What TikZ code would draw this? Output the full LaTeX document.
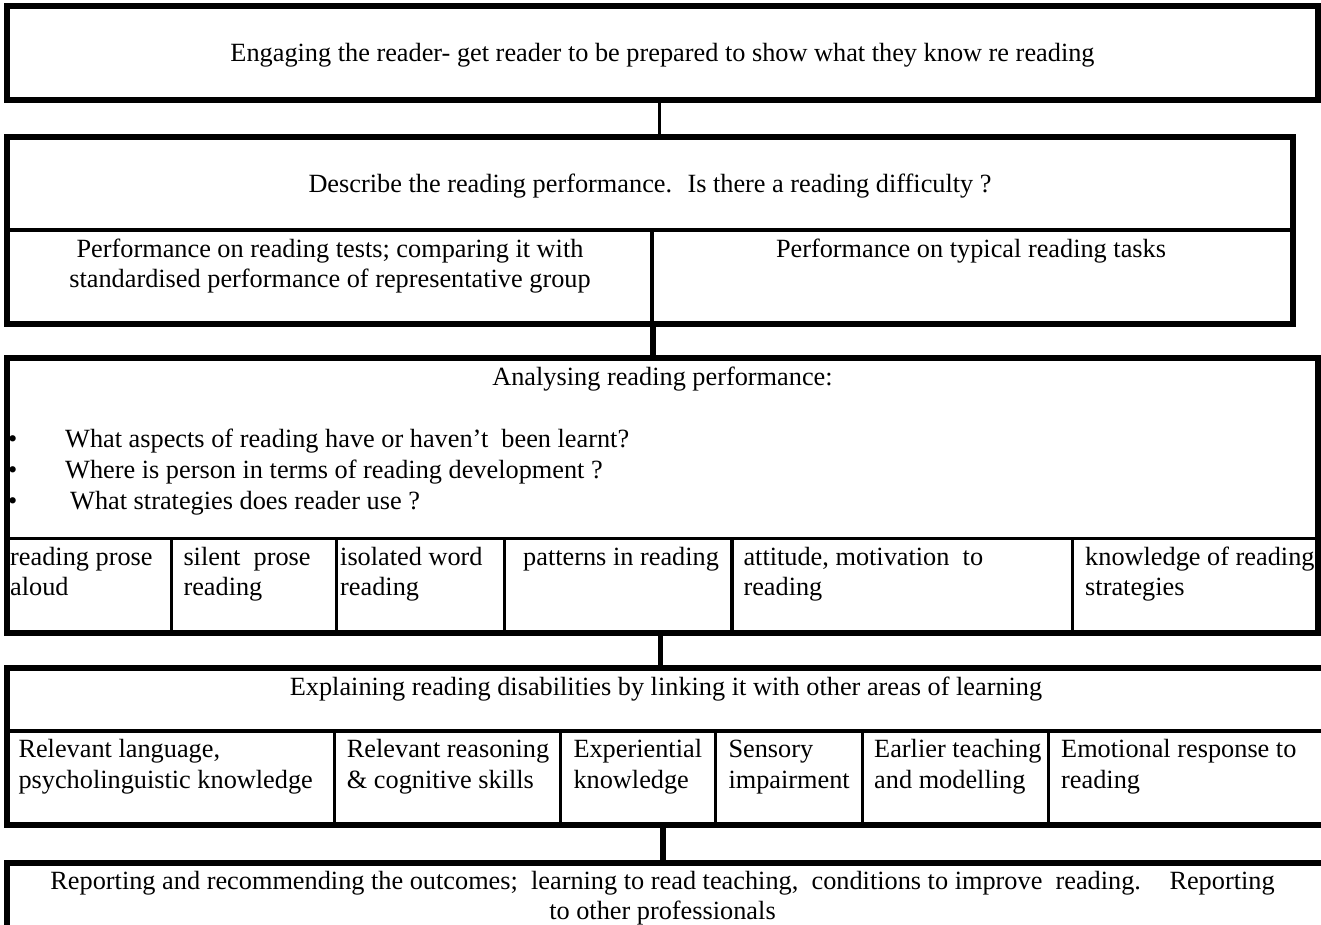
\documentclass[tikz,border=0pt]{standalone}
\usepackage{fontspec}
\setmainfont{Liberation Serif}
\begin{document}
\begin{tikzpicture}[x=1pt,y=-1pt,
  boxnode/.style={draw, rectangle, line width=6pt, inner sep=0pt, outer sep=0pt},
  divider/.style={line width=3.4pt},
  thinconn/.style={line width=3.4pt},
  thickconn/.style={line width=6pt},
  ltxt/.style={inner sep=0pt, font=\fontsize{26.3}{30.6}\selectfont, align=left, anchor=base west},
  ctxt/.style={inner sep=0pt, font=\fontsize{26.3}{30.6}\selectfont, align=center, anchor=base}]
\useasboundingbox (0,0) rectangle (1321,924);
% boxes
\node[boxnode, minimum width=1311pt, minimum height=94pt] (b1) at (662.5,53) {};
\node[boxnode, minimum width=1286pt, minimum height=187.5pt] (b2) at (650,230.25) {};
\node[boxnode, minimum width=1311pt, minimum height=275pt] (b3) at (662.5,495.5) {};
\node[boxnode, minimum width=1319pt, minimum height=156.7pt] (b4) at (666.5,746.35) {};
\node[boxnode, minimum width=1319pt, minimum height=72pt] (b5) at (666.5,899) {};
% connector x positions
\coordinate (k1) at (659.5,0);
\coordinate (k2) at (653,0);
\coordinate (k3) at (660.5,0);
\coordinate (k4) at (663,0);
\draw[thinconn] (b1.south -| k1) -- (b2.north -| k1);
\draw[thickconn] (b2.south -| k2) -- (b3.north -| k2);
\draw[line width=5pt] (b3.south -| k3) -- (b4.north -| k3);
\draw[thickconn] (b4.south -| k4) -- (b5.north -| k4);
% dividers box 2
\draw[divider] (7,230) -- (1293,230);
\draw[divider] (652,230) -- (652,324);
% dividers box 3
\draw[divider] (7,538.5) -- (1318,538.5);
\foreach \x in {171.7,336.5,504.7,732,1072.5} \draw[divider] (\x,538.5) -- (\x,633);
% dividers box 4
\draw[divider] (7,731) -- (1326,731);
\foreach \x in {334.3,560.7,715.7,862.3,1048.3} \draw[divider] (\x,731) -- (\x,824.7);
% texts
\node[ctxt] (t1) at (662.5,61.7) {Engaging the reader- get reader to be prepared to show what they know re reading};
\node[ctxt] (t2) at (650,192.7) {Describe the reading performance.~ Is there a reading difficulty ?};
\node[ctxt] (t3) at (330,287.6) {Performance on reading tests; comparing it with\\standardised performance of representative group};
\node[ctxt] (t4) at (971,257) {Performance on typical reading tasks};
\node[ctxt] (t5) at (662.5,385.5) {Analysing reading performance:};
\node[ltxt] (u1) at (8,447) {•};
\node[ltxt] (u2) at (8,478) {•};
\node[ltxt] (u3) at (8,509) {•};
\node[ltxt] (v1) at (65,447) {What aspects of reading have or haven't~ been learnt?};
\node[ltxt] (v2) at (65,478) {Where is person in terms of reading development ?};
\node[ltxt] (v3) at (70,509) {What strategies does reader use ?};
\node[ltxt] (c1) at (10,595.6) {reading prose\\aloud};
\node[ltxt] (c2) at (183.3,595.6) {silent~ prose\\reading};
\node[ltxt] (c3) at (340,595.6) {isolated word\\reading};
\node[ltxt] (c4) at (523,565) {patterns in reading};
\node[ltxt] (c5) at (743.3,595.6) {attitude, motivation~ to\\reading};
\node[ltxt] (c6) at (1085,595.6) {knowledge of reading\\strategies};
\node[ctxt] (t6) at (666,695.5) {Explaining reading disabilities by linking it with other areas of learning};
\node[ltxt] (d1) at (18.3,788.3) {Relevant language,\\psycholinguistic knowledge};
\node[ltxt] (d2) at (346.7,788.3) {Relevant reasoning\\\& cognitive skills};
\node[ltxt] (d3) at (573.3,788.3) {Experiential\\knowledge};
\node[ltxt] (d4) at (728.3,788.3) {Sensory\\impairment};
\node[ltxt] (d5) at (874,788.3) {Earlier teaching\\and modelling};
\node[ltxt] (d6) at (1061,788.3) {Emotional response to\\reading};
\node[ctxt] (t7) at (662.5,919.6) {Reporting and recommending the outcomes;~ learning to read teaching,~ conditions to improve~ reading.~~~ Reporting\\to other professionals};
\end{tikzpicture}
\end{document}
